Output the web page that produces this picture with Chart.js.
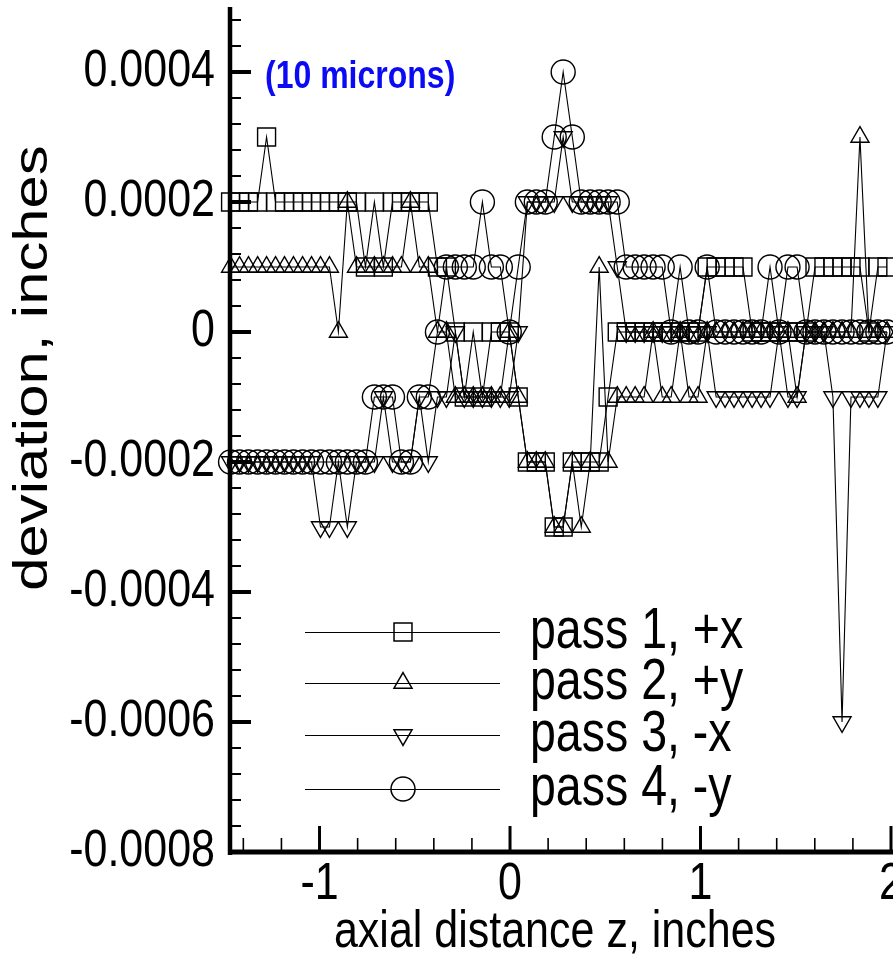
<!DOCTYPE html>
<html lang="en">
<head>
  <meta charset="UTF-8" />
  <title>Deviation vs axial distance</title>
  <style>
    body {
      margin: 0;
      background: #ffffff;
    }
  </style>
</head>
<body>
  <canvas id="myChart" width="893" height="955"></canvas>
  <script src="https://cdn.jsdelivr.net/npm/chart.js@4/dist/chart.umd.min.js"></script>
  <script>
    // axial station of every reading, inches
    const axialZ = [
      -1.467, -1.420, -1.373, -1.325, -1.278, -1.231, -1.184, -1.137, -1.089, -1.042,
      -0.995, -0.948, -0.901, -0.854, -0.806, -0.759, -0.712, -0.665, -0.617, -0.570,
      -0.523, -0.476, -0.429, -0.381, -0.334, -0.287, -0.240, -0.193, -0.145, -0.098,
      -0.051, -0.004, 0.043, 0.091, 0.138, 0.185, 0.232, 0.279, 0.327, 0.374,
      0.421, 0.468, 0.515, 0.563, 0.610, 0.657, 0.704, 0.751, 0.799, 0.846,
      0.893, 0.940, 0.987, 1.035, 1.082, 1.129, 1.176, 1.223, 1.271, 1.318,
      1.365, 1.412, 1.459, 1.507, 1.554, 1.601, 1.648, 1.695, 1.743, 1.790,
      1.837, 1.884, 1.931, 1.979
    ];

    // deviation, inches
    const pass1 = [
      0.0002, 0.0002, 0.0002, 0.0002, 0.0003, 0.0002, 0.0002, 0.0002, 0.0002, 0.0002,
      0.0002, 0.0002, 0.0002, 0.0002, 0.0002, 0.0001, 0.0002, 0.0001, 0.0002, 0.0002,
      0.0002, 0.0002, 0.0002, 0.0001, 0.0001, 0, -0.0001, 0, -0.0001, 0,
      0, 0, -0.0001, -0.0002, -0.0002, -0.0002, -0.0003, -0.0003, -0.0002, -0.0002,
      -0.0002, -0.0002, -0.0001, 0, 0, 0, 0, 0, 0, 0,
      0, 0, 0, 0.0001, 0.0001, 0.0001, 0.0001, 0.0001, 0, 0,
      0, 0, 0, 0, 0, 0.0001, 0.0001, 0.0001, 0.0001, 0.0001,
      0.0001, 0, 0.0001, 0.0001
    ];
    const pass2 = [
      0.0001, 0.0001, 0.0001, 0.0001, 0.0001, 0.0001, 0.0001, 0.0001, 0.0001, 0.0001,
      0.0001, 0.0001, 0, 0.0002, 0.0001, 0.0001, 0.0001, 0.0001, 0.0001, 0.0001,
      0.0002, 0.0001, 0.0001, 0, 0, -0.0001, -0.0001, -0.0001, -0.0001, -0.0001,
      -0.0001, 0, -0.0001, -0.0002, -0.0002, -0.0002, -0.0003, -0.0003, -0.0002, -0.0003,
      -0.0002, 0.0001, -0.0002, -0.0001, -0.0001, -0.0001, -0.0001, 0, -0.0001, -0.0001,
      0, -0.0001, -0.0001, 0, 0, 0, 0, 0, 0, 0,
      0, 0, 0, -0.0001, 0, 0, 0, 0, 0, 0,
      0.0003, 0, 0, 0
    ];
    const pass3 = [
      -0.0002, -0.0002, -0.0002, -0.0002, -0.0002, -0.0002, -0.0002, -0.0002, -0.0002, -0.0002,
      -0.0003, -0.0003, -0.0002, -0.0003, -0.0002, -0.0002, -0.0002, -0.0001, -0.0002, -0.0002,
      -0.0002, -0.0001, -0.0002, -0.0001, -0.0001, 0, -0.0001, -0.0001, -0.0001, -0.0001,
      -0.0001, -0.0001, 0, 0.0002, 0.0002, 0.0002, 0.0002, 0.0003, 0.0002, 0.0002,
      0.0002, 0.0002, 0.0002, 0.0001, 0, 0, 0, 0, 0, 0,
      0, 0, 0, 0, -0.0001, -0.0001, -0.0001, -0.0001, -0.0001, -0.0001,
      -0.0001, 0, -0.0001, -0.0001, 0, 0, 0, -0.0001, -0.0006, -0.0001,
      -0.0001, -0.0001, -0.0001, 0
    ];
    const pass4 = [
      -0.0002, -0.0002, -0.0002, -0.0002, -0.0002, -0.0002, -0.0002, -0.0002, -0.0002, -0.0002,
      -0.0002, -0.0002, -0.0002, -0.0002, -0.0002, -0.0002, -0.0001, -0.0001, -0.0001, -0.0002,
      -0.0002, -0.0001, -0.0001, 0, 0.0001, 0.0001, 0.0001, 0.0001, 0.0002, 0.0001,
      0.0001, 0, 0.0001, 0.0002, 0.0002, 0.0002, 0.0003, 0.0004, 0.0003, 0.0002,
      0.0002, 0.0002, 0.0002, 0.0002, 0.0001, 0.0001, 0.0001, 0.0001, 0.0001, 0,
      0.0001, 0, 0, 0.0001, 0, 0, 0, 0, 0, 0,
      0.0001, 0, 0.0001, 0.0001, 0, 0, 0, 0, 0, 0,
      0, 0, 0, 0
    ];

    const passNames = ['pass 1, +x', 'pass 2, +y', 'pass 3, -x', 'pass 4, -y'];
    const yTickLabels = ['-0.0008', '-0.0006', '-0.0004', '-0.0002', '0', '0.0002', '0.0004'];
    const xTickLabels = ['-1', '0', '1', '2'];
    const noteText = '(10 microns)';

    // one marker per pass
    const markers = [
      { pointStyle: 'rect', radius: 12.7, rotation: 0 },
      { pointStyle: 'triangle', radius: 10.4, rotation: 0 },
      { pointStyle: 'triangle', radius: 10.4, rotation: 180 },
      { pointStyle: 'circle', radius: 12, rotation: 0 }
    ];

    const FONT = '"Liberation Sans", Arial, sans-serif';
    const STRETCH = 1.22;   // text is drawn a little taller than wide

    function tallText(ctx, text, x, y, size, align, bold, color, angle) {
      ctx.save();
      ctx.translate(x, y);
      if (angle) {
        ctx.rotate(angle);
        ctx.scale(STRETCH, 1);
      } else {
        ctx.scale(1, STRETCH);
      }
      ctx.font = (bold ? 'bold ' : '') + size + 'px ' + FONT;
      ctx.fillStyle = color || '#000';
      ctx.textAlign = align;
      ctx.textBaseline = 'middle';
      ctx.fillText(text, 0, 0);
      ctx.restore();
    }

    function line(ctx, x1, y1, x2, y2, w) {
      ctx.lineWidth = w;
      ctx.beginPath();
      ctx.moveTo(x1, y1);
      ctx.lineTo(x2, y2);
      ctx.stroke();
    }

    // axes with inward ticks, labels, titles, legend and note
    const frame = {
      id: 'frame',
      afterDatasetsDraw(chart) {
        const ctx = chart.ctx;
        const xs = chart.scales.x;
        const ys = chart.scales.y;
        const a = chart.chartArea;
        ctx.save();
        ctx.strokeStyle = '#000';
        ctx.lineCap = 'butt';

        // y ticks
        for (let k = 0; k <= 32; k++) {
          const v = -0.0008 + k * 0.00004;
          if (v > 0.00049) break;
          const py = ys.getPixelForValue(v);
          const major = k % 5 === 0;
          line(ctx, a.left, py, a.left + (major ? 21 : 11), py, major ? 4 : 2);
        }
        // x ticks
        for (let k = 0; k <= 20; k++) {
          const v = -1.4 + k * 0.2;
          if (v > 2.001) break;
          const px = xs.getPixelForValue(v);
          const major = Math.abs(v - Math.round(v)) < 1e-6;
          line(ctx, px, a.bottom, px, a.bottom - (major ? 26 : 14), major ? 3 : 1.6);
        }
        // axis lines
        line(ctx, a.left, a.top, a.left, a.bottom + 3, 4.5);
        line(ctx, a.left - 2, a.bottom, a.right + 4, a.bottom, 5);

        // tick labels
        yTickLabels.forEach(t => {
          tallText(ctx, t, 215, ys.getPixelForValue(parseFloat(t)), 43, 'right');
        });
        xTickLabels.forEach(t => {
          tallText(ctx, t, xs.getPixelForValue(parseFloat(t)), 885, 43, 'center');
        });

        // axis titles
        tallText(ctx, 'axial distance z, inches', 555, 933, 43, 'center');
        tallText(ctx, 'deviation, inches', 33, 368, 49, 'center', false, '#000', -Math.PI / 2);

        // note
        tallText(ctx, noteText, 265, 77, 32, 'left', true, '#0a0af5');

        // legend
        const rows = [632, 683, 735, 789];
        passNames.forEach((name, i) => {
          const ly = rows[i];
          ctx.strokeStyle = '#000';
          line(ctx, 305, ly + 0.5, 500, ly + 0.5, 1);
          ctx.fillStyle = 'rgba(0,0,0,0)';
          ctx.lineWidth = 1.5;
          Chart.helpers.drawPoint(ctx, {
            pointStyle: markers[i].pointStyle,
            radius: markers[i].radius,
            rotation: markers[i].rotation,
            borderWidth: 1.5
          }, 403, ly);
          tallText(ctx, name, 530, ly, 46.5, 'left');
        });
        ctx.restore();
      }
    };

    const series = [pass1, pass2, pass3, pass4];
    const ctx = document.getElementById('myChart').getContext('2d');
    const myChart = new Chart(ctx, {
      type: 'line',
      data: {
        datasets: series.map((vals, i) => ({
          label: passNames[i],
          data: axialZ.map((z, j) => ({ x: z, y: vals[j] })),
          borderColor: '#000',
          borderWidth: 1.1,
          backgroundColor: 'rgba(0,0,0,0)',
          pointBackgroundColor: 'rgba(0,0,0,0)',
          pointBorderColor: '#000',
          pointBorderWidth: 1.4,
          pointStyle: markers[i].pointStyle,
          pointRadius: markers[i].radius,
          pointRotation: markers[i].rotation,
          tension: 0,
          fill: false,
          clip: false
        }))
      },
      options: {
        responsive: false,
        animation: false,
        devicePixelRatio: 1,
        layout: {
          autoPadding: false,
          padding: { left: 230, right: 2, top: 7, bottom: 103 }
        },
        plugins: {
          legend: { display: false },
          tooltip: { enabled: false }
        },
        scales: {
          x: {
            type: 'linear',
            min: -1.47,
            max: 2,
            grid: { display: false, drawTicks: false },
            border: { display: false },
            ticks: { display: false }
          },
          y: {
            type: 'linear',
            min: -0.0008,
            max: 0.0005,
            grid: { display: false, drawTicks: false },
            border: { display: false },
            ticks: { display: false }
          }
        }
      },
      plugins: [frame]
    });
  </script>
</body>
</html>
